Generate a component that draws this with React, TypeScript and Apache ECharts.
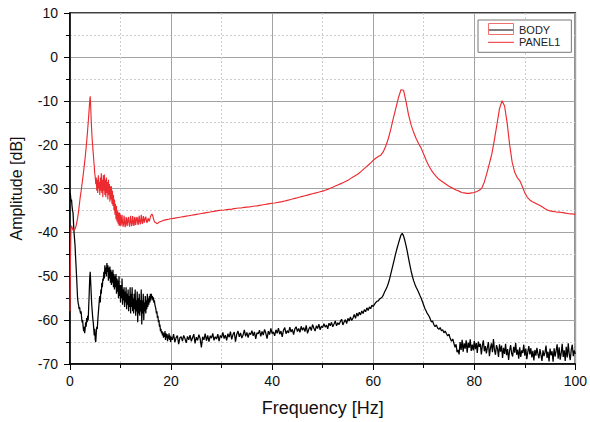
import React, { useEffect, useRef } from 'react';
import * as echarts from 'echarts';

const FONT = '"Liberation Sans", Arial, Helvetica, sans-serif';

// Axis ticks
const xTicks = [0, 20, 40, 60, 80, 100];
const yTicks = [-70, -60, -50, -40, -30, -20, -10, 0, 10];

const seriesNames = ['BODY', 'PANEL1'];

// BODY, 0 .. 20 Hz, step 0.1 Hz
const bodyLowStart = 0;
const bodyLowStep = 0.1;
const bodyLow = [
  -31, -31.5, -33, -32.5, -34, -35, -35.5, -38, -40, -41.5,
  -43, -45.5, -47.7, -50, -52.5, -55, -56, -56.5, -57.5, -57,
  -58, -58.5, -58, -59.5, -60.5, -60, -61.5, -62.5, -61.5, -63,
  -62, -60.5, -61.5, -59.5, -60.5, -59, -60, -57, -54, -50.5,
  -49, -51.5, -54, -56.5, -58, -59.5, -60.5, -62, -63.5, -62,
  -64.5, -65, -63, -61.5, -62, -60, -58.5, -57, -55.5, -54.5,
  -56, -53, -54, -51.5, -52.5, -50.5, -51, -49, -50.5, -47.5,
  -49.5, -48, -50, -47, -49, -47.5, -51, -48, -50.5, -47.8,
  -51.5, -48.5, -52, -49, -51.5, -48.5, -52.5, -49.5, -53, -50,
  -52.5, -49.5, -54, -50.5, -53.5, -51, -55, -50, -54.5, -52,
  -56, -52, -55, -50.5, -56.5, -53, -55.5, -52.5, -57, -53.5,
  -56, -52.5, -57.5, -54, -56.5, -53, -58, -54.5, -57, -52.5,
  -58.5, -54, -57, -52.5, -58, -55, -58.5, -54, -57.5, -53,
  -59, -55.5, -58, -53.5, -60.5, -55, -58.5, -54, -59, -55.5,
  -58, -53, -61, -55.5, -58.5, -54, -60, -56, -58, -54.5,
  -58.5, -55.5, -57.5, -54, -57, -55, -56.5, -54.5, -56, -54,
  -55.5, -54, -55, -54.5, -55.5, -54.8, -56, -55.5, -56.5, -57,
  -57.5, -58.5, -58, -59.5, -59, -60.5, -60, -61.5, -61, -62.5,
  -62, -63, -62.5, -63.5, -62.8, -64, -63, -63.8, -62.5, -64.5,
  -63, -64, -63.2, -64.8, -63.5, -64.2, -63, -64.5, -63.5, -65,
  -63.8,
];

// BODY, 20.25 .. 60 Hz, step 0.25 Hz
const bodyMidStart = 20.25;
const bodyMidStep = 0.25;
const bodyMid = [
  -64.5, -63.2, -65, -64,
  -63.5, -65.5, -64, -63.8,
  -64.8, -63.5, -64.2, -65.2,
  -63.7, -64.5, -63.4, -64.8,
  -64, -63.2, -65.3, -63.9,
  -64.6, -63.3, -64.2, -66.2,
  -63.8, -64.5, -63.1, -64.7,
  -63.5, -64.9, -63.6, -64.1,
  -63, -64.6, -63.8, -64.3,
  -63.2, -64.8, -63.5, -64,
  -62.8, -64.2, -63.4, -64.6,
  -63.1, -63.9, -62.6, -64.4,
  -63.3, -62.7, -64.9, -63.2,
  -62.5, -63.8, -62.9, -64.1,
  -63.4, -62.2, -63.7, -62.8,
  -64, -62.9, -63.3, -62.4,
  -63.6, -62.7, -64.3, -62.9,
  -63.1, -62.3, -63.7, -62.6,
  -63.4, -62.1, -63, -64.2,
  -62.5, -63.3, -61.9, -63.1,
  -62.7, -63.6, -62.2, -63,
  -61.8, -63.2, -62.5, -63.8,
  -62.3, -61.7, -63.1, -62.4,
  -62.9, -61.6, -62.7, -62.1,
  -63.3, -62, -61.5, -62.6,
  -61.9, -62.8, -61.4, -62.3,
  -61.7, -62.6, -61.2, -63,
  -62.1, -61.5, -62.4, -61,
  -61.8, -62.5, -61.3, -61.9,
  -60.9, -62.2, -61.4, -61.7,
  -60.8, -61.6, -61.1, -62,
  -60.7, -61.3, -60.5, -61.5,
  -60.9, -60.2, -61.3, -60.6,
  -61, -60.3, -59.8, -61.1,
  -60.4, -59.9, -60.8, -59.6,
  -60.2, -59.3, -60.1, -59.5,
  -58.7, -59.6, -58.4, -59.1,
  -58.2, -58.8, -57.9, -58.5,
  -57.6, -58.1, -57.2, -57.8,
  -57, -57.4, -56.6, -56.9,
];

// BODY, 60.25 .. 76 Hz, step 0.25 Hz (resonance)
const bodyPeakStart = 60.25;
const bodyPeakStep = 0.25;
const bodyPeak = [
  -56.4, -56.0, -55.7, -55.6,
  -55.2, -55.0, -54.8, -54.3,
  -53.6, -53.0, -52.4, -51.6,
  -50.6, -49.4, -48.2, -47.0,
  -45.8, -44.6, -43.5, -42.5,
  -41.5, -40.6, -40.2, -40.8,
  -41.8, -43.0, -44.4, -45.9,
  -47.4, -48.8, -50.0, -51.0,
  -51.8, -52.5, -53.1, -53.7,
  -54.4, -55.0, -55.8, -56.6,
  -57.4, -58.0, -58.6, -59.0,
  -59.6, -60.4, -60.2, -61.0,
  -61.5, -61.1, -61.8, -62.1,
  -61.7, -62.4, -62.2, -62.9,
  -62.5, -63.1, -63.6, -63.2,
  -64.2, -64.8, -64.3, -65.4,
];

// BODY, 76.2 .. 100 Hz, step 0.2 Hz
const bodyHighStart = 76.2;
const bodyHighStep = 0.2;
const bodyHigh = [
  -66.2, -65.5, -67.3, -66.8, -67.8,
  -65, -66.8, -64.5, -67.2, -65.3,
  -66.5, -64.6, -67.4, -65.1, -66.3,
  -64.4, -67, -65.6, -66.9, -64.8,
  -66.6, -65.2, -67.5, -64.9, -66.1,
  -65.4, -67.8, -65.8, -64.6, -67.1,
  -65.9, -67.6, -66.2, -65, -68.2,
  -66.4, -65.3, -67.3, -64.3, -66.8,
  -67.9, -65.7, -66.5, -68.4, -65.5,
  -67.2, -65.8, -68.6, -66.3, -67.7,
  -65.4, -68, -66.6, -69.1, -66.9,
  -65.7, -67.6, -68.3, -66.1, -67.4,
  -65.2, -67.9, -66.7, -68.8, -66.2,
  -68.4, -66.9, -67.5, -65.6, -68.1,
  -66.5, -68.9, -67.2, -65.9, -67.8,
  -66.4, -68.5, -67, -69.2, -66.8,
  -68.1, -66.3, -67.7, -68.7, -66.6,
  -67.9, -69.3, -66.9, -68.2, -67.4,
  -65.8, -68.6, -67.2, -69.4, -66.5,
  -68, -67.1, -69.5, -66.4, -68.3,
  -67, -65.5, -68.8, -66.2, -69,
  -67.6, -65.4, -68.4, -66.9, -69.3,
  -66.1, -68.5, -65.3, -67.8, -69.1,
  -66.7, -65.6, -68.2, -66.9, -67.7,
];

// PANEL1, 0 .. 20 Hz, step 0.1 Hz
const panelLowStart = 0;
const panelLowStep = 0.1;
const panelLow = [
  -58, -45, -39, -38.5, -38.8, -39.2, -39.5, -39.6, -39.5, -39.4,
  -39.2, -38.9, -38.5, -38, -37.4, -36.8, -36, -35.2, -34.2, -33.2,
  -32.2, -31.4, -30.6, -29.7, -28.8, -27.9, -27, -26, -25, -24,
  -23, -21.8, -20.6, -19.3, -18, -16.5, -15, -13.5, -11.8, -10,
  -9, -11.5, -14.5, -17, -19, -20.5, -22, -23.5, -25, -26.5,
  -27.5, -29, -27.5, -30.5, -28, -31, -27, -30, -28.5, -31.5,
  -27.5, -30.5, -26.5, -31, -28, -32, -27, -30.5, -26.8, -31.5,
  -28, -32, -27.5, -31, -28.5, -32.5, -28, -31.5, -29, -33,
  -29.5, -32.5, -29.5, -33.5, -30.5, -34, -31.5, -35, -32.5, -36,
  -33.5, -37, -34, -37.5, -35, -38, -35.5, -38.5, -35.5, -38.5,
  -36, -38.5, -37.5, -36, -37.8, -38.7, -38, -36.2, -37.5, -38.8,
  -38.3, -36.5, -37, -38.6, -38.5, -36.8, -36.5, -38.2, -38.7, -37.5,
  -36.2, -37.5, -38.6, -38, -36.3, -37.2, -38.5, -38.3, -36.5, -36.8,
  -38.3, -38.4, -36.7, -36.5, -38, -38.3, -37, -36.2, -37.5, -38.2,
  -37.5, -36, -37, -38, -37.8, -36.3, -36.6, -37.8, -37.9, -36.8,
  -36.4, -37.2, -37.8, -37.6, -37, -36.8, -37.3, -37.5, -37, -36.5,
  -36.2, -36, -35.8, -36, -36.3, -36.8, -37.2, -37.5, -37.7, -37.8,
  -37.8, -37.9, -38, -38, -37.9, -37.8, -37.7, -37.6, -37.6, -37.5,
  -37.5, -37.4, -37.4, -37.3, -37.3, -37.3, -37.2, -37.2, -37.2, -37.1,
  -37.1, -37.1, -37.1, -37.0, -37.0, -37.0, -37.0, -36.9, -36.9, -36.9,
  -36.9,
];

// PANEL1, 20.5 .. 100 Hz, step 0.5 Hz
const panelHighStart = 20.5;
const panelHighStep = 0.5;
const panelHigh = [
  -36.8, -36.7, -36.6, -36.5, -36.4, -36.3, -36.2, -36.1, -36.0, -35.9,
  -35.8, -35.7, -35.6, -35.5, -35.4, -35.3, -35.2, -35.1, -35.0, -34.95,
  -34.9, -34.8, -34.75, -34.7, -34.6, -34.5, -34.45, -34.4, -34.3, -34.25,
  -34.2, -34.1, -34.0, -33.95, -33.85, -33.75, -33.65, -33.55, -33.45, -33.35,
  -33.3, -33.2, -33.1, -33.0, -32.85, -32.7, -32.55, -32.4, -32.25, -32.1,
  -31.95, -31.8, -31.65, -31.5, -31.35, -31.2, -31.05, -30.9, -30.75, -30.6,
  -30.4, -30.2, -29.95, -29.7, -29.45, -29.2, -28.95, -28.7, -28.4, -28.1,
  -27.75, -27.4, -27.05, -26.7, -26.2, -25.7, -25.2, -24.7, -24.15, -23.6,
  -23.1, -22.7, -22.4, -21.6, -20.3, -18.6, -16.4, -13.9, -11.6, -9.3,
  -7.5, -7.6, -10.2, -13.2, -15.5, -17.2, -18.6, -19.8, -20.8, -22.2,
  -23.6, -24.8, -25.8, -26.6, -27.3, -27.9, -28.3, -28.7, -29.1, -29.5,
  -29.8, -30.1, -30.4, -30.6, -30.9, -31.0, -31.1, -31.1, -31.0, -30.9,
  -30.7, -30.4, -29.9, -28.5, -26.5, -24.3, -22.0, -18.8, -15.3, -11.8,
  -10.0, -11.2, -15, -20, -24, -26.3, -27.5, -28.2, -29.5, -31,
  -32, -32.6, -33.0, -33.3, -33.6, -33.9, -34.2, -34.6, -34.9, -35.1,
  -35.2, -35.3, -35.4, -35.4, -35.5, -35.6, -35.7, -35.8, -35.8, -35.9,
];

function toPairs(start: number, step: number, values: number[]): number[][] {
  return values.map((v, i) => [Math.round((start + i * step) * 1000) / 1000, v]);
}

const bodyData = [
  ...toPairs(bodyLowStart, bodyLowStep, bodyLow),
  ...toPairs(bodyMidStart, bodyMidStep, bodyMid),
  ...toPairs(bodyPeakStart, bodyPeakStep, bodyPeak),
  ...toPairs(bodyHighStart, bodyHighStep, bodyHigh),
];

const panelData = [
  ...toPairs(panelLowStart, panelLowStep, panelLow),
  ...toPairs(panelHighStart, panelHighStep, panelHigh),
];

const RED = '#ec2a30';

export default function App() {
  const ref = useRef<HTMLDivElement>(null);

  useEffect(() => {
    document.body.style.margin = '0';
    const chart = echarts.init(ref.current!, null, { renderer: 'svg' });
    const axisCommon = {
      type: 'value' as const,
      nameLocation: 'middle' as const,
      axisLine: { show: true, onZero: false, lineStyle: { color: '#000', width: 1.5 } },
      axisTick: { show: true, inside: false, length: 6, lineStyle: { color: '#000', width: 1 } },
      minorTick: { show: true, splitNumber: 2, length: 4, lineStyle: { color: '#000', width: 1 } },
      splitLine: { show: true, lineStyle: { color: '#a3a3a3', width: 1 } },
      minorSplitLine: { show: true, lineStyle: { color: '#cdcdcd', width: 1, type: [2, 2] } },
    };
    chart.setOption({
      animation: false,
      backgroundColor: '#fff',
      textStyle: { fontFamily: FONT },
      grid: {
        left: 70, right: 13, top: 13, bottom: 57,
        show: true, borderColor: '#000', borderWidth: 1.5, backgroundColor: 'transparent',
      },
      xAxis: {
        ...axisCommon,
        min: xTicks[0], max: xTicks[xTicks.length - 1], interval: xTicks[1] - xTicks[0],
        name: 'Frequency [Hz]', nameGap: 35,
        nameTextStyle: { fontSize: 18, color: '#111', fontFamily: FONT },
        axisLabel: { fontSize: 14, color: '#111', margin: 10, fontFamily: FONT },
      },
      yAxis: {
        ...axisCommon,
        min: yTicks[0], max: yTicks[yTicks.length - 1], interval: yTicks[1] - yTicks[0],
        name: 'Amplitude [dB]', nameGap: 46,
        nameTextStyle: { fontSize: 16, color: '#111', fontFamily: FONT },
        axisLabel: { fontSize: 14, color: '#111', margin: 12, fontFamily: FONT },
      },
      legend: {
        data: seriesNames,
        orient: 'vertical',
        left: 478, top: 20,
        padding: [4, 11, 4, 10],
        itemWidth: 26, itemHeight: 12, itemGap: 0.3,
        icon: 'path://M0,0 L26,0 L26,1 L0,1 Z',
        backgroundColor: '#fff', borderColor: '#777', borderWidth: 1,
        textStyle: { fontSize: 11, color: '#222', fontFamily: FONT, lineHeight: 12 },
      },
      graphic: [
        {
          type: 'rect',
          z: 100,
          silent: true,
          shape: { x: 488.5, y: 23.5, width: 25, height: 11 },
          style: { fill: 'none', stroke: '#f07070', lineWidth: 1 },
        },
      ],
      series: [
        {
          name: seriesNames[0], type: 'line', data: bodyData,
          symbol: 'none', showSymbol: false,
          lineStyle: { color: '#000', width: 1.25 }, itemStyle: { color: '#000' },
          z: 3,
        },
        {
          name: seriesNames[1], type: 'line', data: panelData,
          symbol: 'none', showSymbol: false,
          lineStyle: { color: RED, width: 1.15 }, itemStyle: { color: RED },
          z: 4,
        },
      ],
    });
    return () => chart.dispose();
  }, []);

  return (
    <div
      ref={ref}
      style={{ position: 'absolute', left: 0, top: 0, width: 590, height: 422, background: '#fff' }}
    />
  );
}
